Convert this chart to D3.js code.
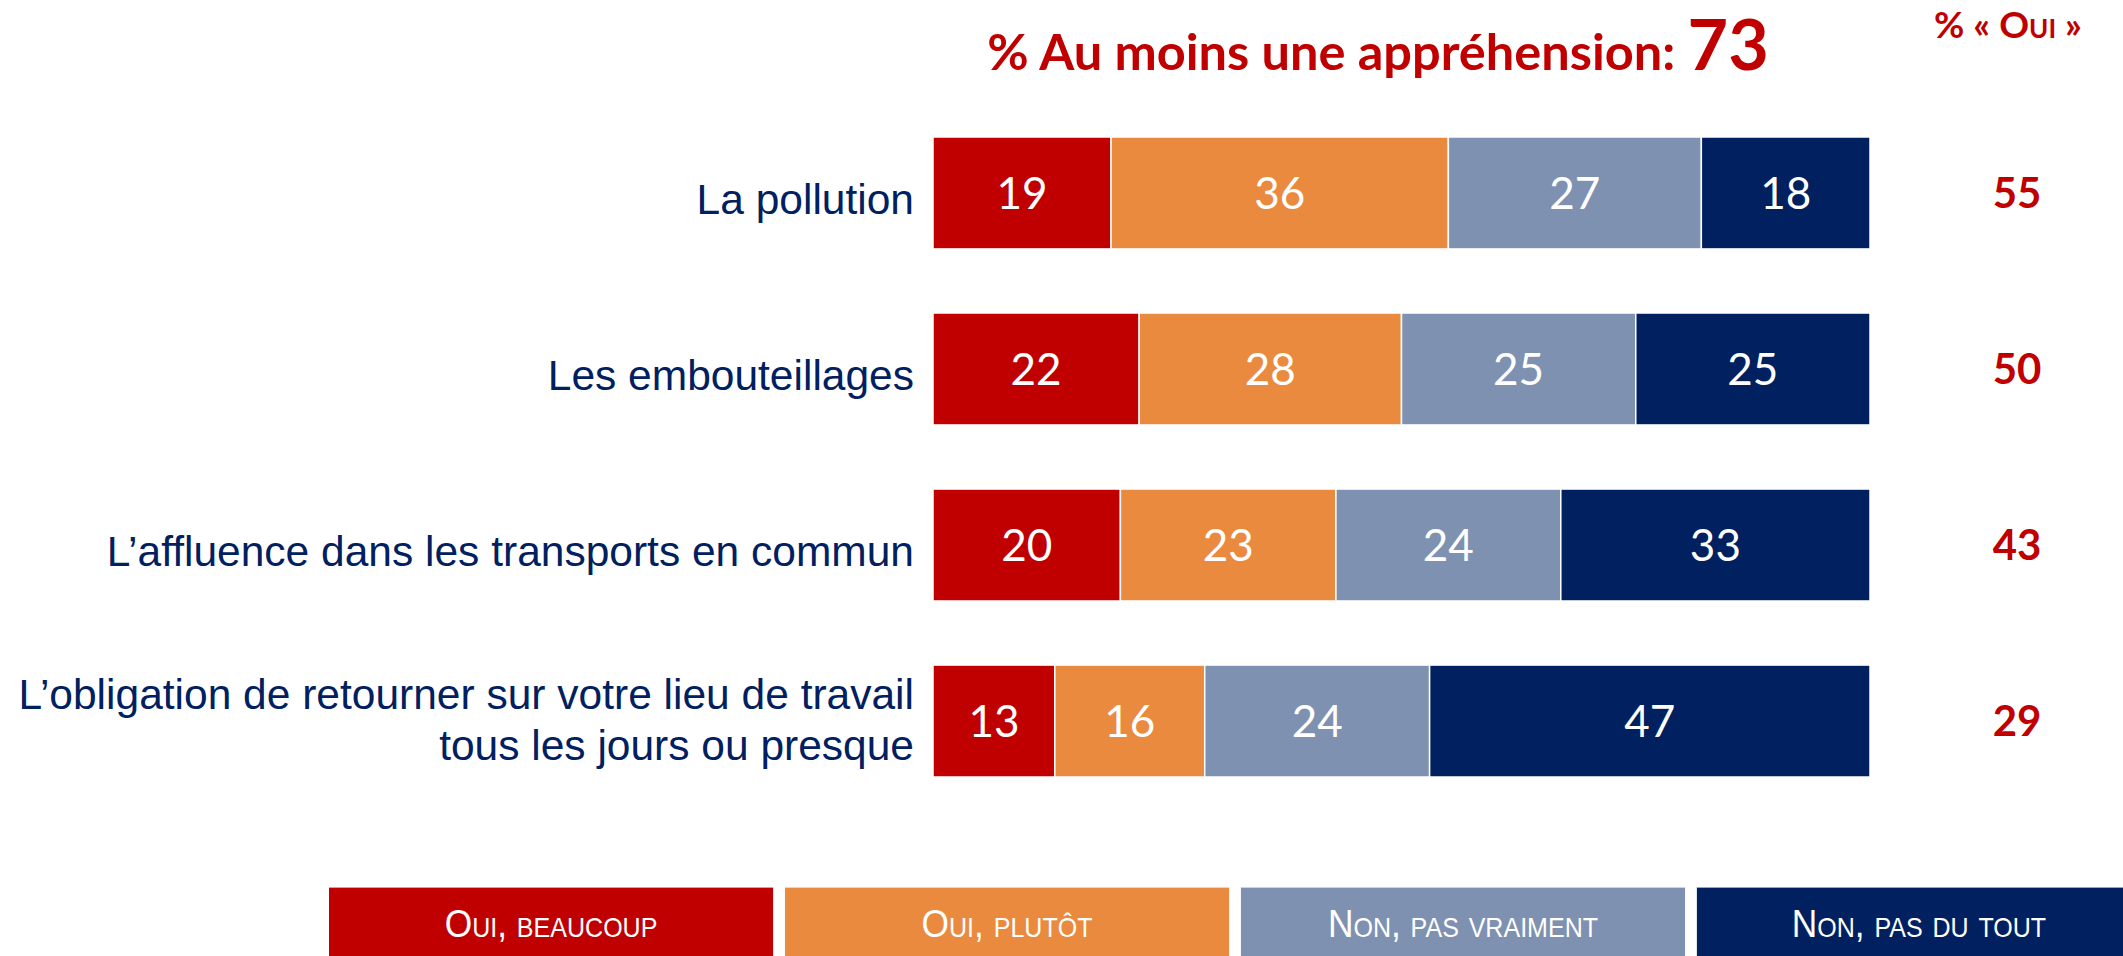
<!DOCTYPE html>
<html><head><meta charset="utf-8">
<script src="https://cdn.jsdelivr.net/npm/d3@7"></script>
<style>
html,body{margin:0;padding:0;background:#fff;}
svg{display:block;}
</style></head>
<body>
<svg id="chart" width="2123" height="956"></svg>
<script>
const categories = [
  ["La pollution"],
  ["Les embouteillages"],
  ["L\u2019affluence dans les transports en commun"],
  ["L\u2019obligation de retourner sur votre lieu de travail", "tous les jours ou presque"]
];
const seriesNames = ["Oui, beaucoup", "Oui, plutôt", "Non, pas vraiment", "Non, pas du tout"];
const ouiBeaucoup = [19, 22, 20, 13];
const ouiPlutot = [36, 28, 23, 16];
const nonPasVraiment = [27, 25, 24, 24];
const nonPasDuTout = [18, 25, 33, 47];
const pctOui = [55, 50, 43, 29];
const titleText = "% Au moins une appréhension: ";
const titleValue = 73;
const colors = ["#C00000", "#EA8A3E", "#7F91B1", "#002060"];

const svg = d3.select("#chart");
const series = [ouiBeaucoup, ouiPlutot, nonPasVraiment, nonPasDuTout];
const catKeys = categories.map((c, i) => i);

const x = d3.scaleLinear().domain([0, 100]).range([933, 1870]);
const y = d3.scaleBand().domain(catKeys).range([137, 777]).paddingInner(0.364).paddingOuter(0);

const rows = catKeys.map(i => {
  let acc = 0;
  return series.map((s, k) => { const d = {k, v: s[i], x0: acc, x1: acc + s[i], row: i}; acc += s[i]; return d; });
});

// bars
const g = svg.append("g");
rows.forEach((segs, i) => {
  const row = g.append("g");
  row.selectAll("rect").data(segs).join("rect")
    .attr("x", d => x(d.x0))
    .attr("y", y(i))
    .attr("width", d => x(d.x1) - x(d.x0))
    .attr("height", y.bandwidth())
    .attr("fill", d => colors[d.k])
    .attr("stroke", "#fff").attr("stroke-width", 1.5);
  row.selectAll("text").data(segs).join("text")
    .attr("x", d => (x(d.x0) + x(d.x1)) / 2)
    .attr("y", y(i) + y.bandwidth() / 2)
    .attr("dy", "0.36em")
    .attr("text-anchor", "middle")
    .attr("fill", "#fff")
    .style("font-family", "Lato, 'Open Sans', sans-serif")
    .style("font-size", "44px")
    .text(d => d.v);
});

// category labels
catKeys.forEach(i => {
  const lines = categories[i];
  const n = lines.length;
  const cy = y(i) + y.bandwidth() / 2;
  const lh = 51;
  const t = svg.append("text")
    .attr("text-anchor", "end")
    .attr("fill", "#002060")
    .style("font-family", "'Liberation Sans', Arial, sans-serif")
    .style("font-size", "42.5px");
  lines.forEach((ln, j) => {
    t.append("tspan")
      .attr("x", 914)
      .attr("y", cy + 21 + (j - (n - 1) / 2) * lh - (n - 1) * 7.5)
      .text(ln);
  });
});

// % Oui column
svg.append("g").selectAll("text").data(pctOui).join("text")
  .attr("x", 2017)
  .attr("y", (d, i) => y(i) + y.bandwidth() / 2)
  .attr("dy", "0.36em")
  .attr("text-anchor", "middle")
  .attr("fill", "#C00000")
  .style("font-family", "Lato, 'Open Sans', sans-serif")
  .style("font-weight", "bold")
  .style("font-size", "42px")
  .text(d => d);

// header % « Oui »
svg.append("text")
  .attr("x", 2008).attr("y", 38)
  .attr("text-anchor", "middle")
  .attr("fill", "#C00000")
  .style("font-family", "Lato, 'Open Sans', sans-serif")
  .style("font-weight", "bold")
  .style("font-size", "37px")
  .style("font-variant", "small-caps")
  .text("% « Oui »");

// title
const title = svg.append("text")
  .attr("x", 1378).attr("y", 70)
  .attr("text-anchor", "middle")
  .attr("fill", "#C00000")
  .style("font-family", "Lato, 'Open Sans', sans-serif")
  .style("font-weight", "bold");
title.append("tspan").style("font-size", "50.5px").text(titleText);
title.append("tspan").style("font-size", "70px").text(titleValue);

// legend
const lx = d3.scaleBand().domain(seriesNames).range([329, 2141]).paddingInner(0.026);
const leg = svg.append("g");
leg.selectAll("rect").data(seriesNames).join("rect")
  .attr("x", d => lx(d)).attr("y", 887)
  .attr("width", lx.bandwidth()).attr("height", 80)
  .attr("fill", (d, i) => colors[i]);
leg.selectAll("line").data(seriesNames).join("line")
  .attr("x1", d => lx(d)).attr("x2", d => lx(d) + lx.bandwidth())
  .attr("y1", 887.5).attr("y2", 887.5)
  .attr("stroke", "#fff").attr("stroke-opacity", 0.6).attr("stroke-width", 1);
leg.selectAll("text").data(seriesNames).join("text")
  .attr("x", d => lx(d) + lx.bandwidth() / 2)
  .attr("y", 923)
  .attr("dy", "0.36em")
  .attr("text-anchor", "middle")
  .attr("fill", "#fff")
  .style("font-family", "'Liberation Sans', Arial, sans-serif")
  .style("font-size", "38px")
  .style("font-variant", "small-caps")
  .attr("transform", d => { const cx = lx(d) + lx.bandwidth() / 2; return `translate(${cx},0) scale(0.93,1) translate(${-cx},0)`; })
  .text(d => d);
</script>
</body></html>
